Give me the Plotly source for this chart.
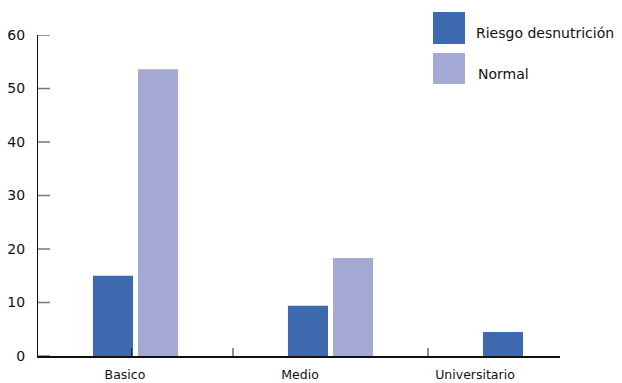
import plotly.graph_objects as go

# Education level categories and counts per nutritional status
categories = ["Basico", "Medio", "Universitario"]
riesgo = [15.0, 9.4, 4.5]
normal = [53.6, 18.3, 0.0]
series_names = ["Riesgo desnutrición", "Normal"]
colors = ["#3D69AE", "#A4AAD3"]
y_ticks = [0, 10, 20, 30, 40, 50, 60]

W, H = 622, 383
L, R, T, B = 38, 62, 35, 27
plot_w, plot_h = W - L - R, H - T - B

fig = go.Figure()
for name, vals, col in zip(series_names, [riesgo, normal], colors):
    fig.add_trace(go.Bar(
        x=categories, y=vals, name=name,
        marker=dict(color=col, line=dict(width=0)),
        showlegend=False,
    ))

FONT = "DejaVu Sans"

# Category labels sit slightly left of each group
label_pos = [-0.054, 0.844, 1.741]
# Small upward ticks along the x axis
xtick_pos = [-0.02, 0.5, 1.5]

shapes = []
for xp in xtick_pos:
    shapes.append(dict(type="line", xref="x", yref="y", x0=xp, x1=xp, y0=0, y1=1.5,
                       line=dict(color="#222222", width=1)))

# Grey inward ticks on the value axis
for yv in y_ticks:
    shapes.append(dict(type="line", xref="paper", yref="y", x0=0, x1=12 / plot_w,
                       y0=yv, y1=yv, line=dict(color="#777777", width=1.5)))

# Legend drawn as large swatches with text
def px_x(px):
    return (px - L) / plot_w

def px_y(py):
    return (H - B - py) / plot_h

swatches = [(433, 465, 12, 44), (433, 465, 53, 84)]
for (x0, x1, y0, y1), col in zip(swatches, colors):
    shapes.append(dict(type="rect", xref="paper", yref="paper",
                       x0=px_x(x0), x1=px_x(x1), y0=px_y(y1), y1=px_y(y0),
                       fillcolor=col, line=dict(width=0)))

annotations = []
legend_text_pos = [(474, 33), (476, 74)]
for (tx, ty), name in zip(legend_text_pos, series_names):
    annotations.append(dict(text=name, xref="paper", yref="paper", x=px_x(tx), y=px_y(ty),
                            xanchor="left", yanchor="middle", showarrow=False,
                            font=dict(family=FONT, size=14, color="#111111")))

fig.update_layout(
    width=W, height=H,
    margin=dict(l=L, r=R, t=T, b=B, pad=0, autoexpand=False),
    paper_bgcolor="white", plot_bgcolor="white",
    barmode="group", bargap=0.538, bargroupgap=0.11,
    shapes=shapes, annotations=annotations,
    xaxis=dict(
        type="category", range=[-0.5, 2.177], automargin=False,
        tickmode="array", tickvals=label_pos, ticktext=categories,
        ticks="", showgrid=False, zeroline=False,
        showline=True, linecolor="#111111", linewidth=1.5,
        tickfont=dict(family=FONT, size=12.5, color="#111111"),
        ticklabelstandoff=6,
    ),
    yaxis=dict(
        range=[0, 60], tickmode="array", tickvals=y_ticks, automargin=False,
        ticks="", showgrid=False, zeroline=False,
        showline=True, linecolor="#111111", linewidth=1,
        tickfont=dict(family=FONT, size=14, color="#111111"),
        ticklabelstandoff=9,
    ),
)

fig.write_html("out.html")
